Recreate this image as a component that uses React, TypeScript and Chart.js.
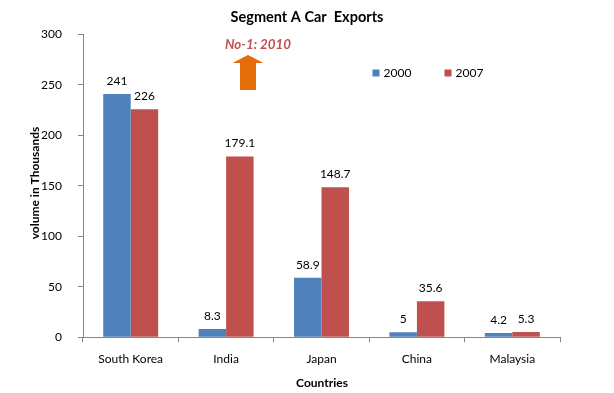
import React, { useEffect, useRef } from "react";
import { Chart, registerables } from "chart.js";

Chart.register(...registerables);

const categories = ["South Korea", "India", "Japan", "China", "Malaysia"];
const series2000 = [241, 8.3, 58.9, 5, 4.2];
const series2007 = [226, 179.1, 148.7, 35.6, 5.3];
const seriesNames = ["2000", "2007"];
const seriesColors = ["#4f81bd", "#c0504d"];
const yTicksMax = 300;
const yTicksStep = 50;
const chartTitle = "Segment A Car  Exports";
const annotationText = "No-1: 2010";
const xTitle = "Countries";
const yTitle = "volume in Thousands";

const FONT = "Lato, 'Open Sans', sans-serif";

const overlayPlugin = {
  id: "overlay",
  afterDatasetsDraw(chart: any) {
    const ctx = chart.ctx;
    ctx.save();
    // data labels
    ctx.font = `12px ${FONT}`;
    ctx.fillStyle = "#000";
    ctx.textAlign = "center";
    ctx.textBaseline = "middle";
    chart.data.datasets.forEach((ds: any, i: number) => {
      const meta = chart.getDatasetMeta(i);
      meta.data.forEach((bar: any, j: number) => {
        ctx.fillText(String(ds.data[j]), bar.x, bar.y - 13);
      });
    });
    // title
    ctx.font = `bold 14.5px ${FONT}`;
    ctx.fillText(chartTitle, 307, 17);
    // annotation
    ctx.font = `italic bold 13.3px ${FONT}`;
    ctx.fillStyle = "#c0504d";
    ctx.textAlign = "left";
    ctx.fillText(annotationText, 225, 45);
    // arrow
    ctx.fillStyle = "#e46c0a";
    ctx.beginPath();
    ctx.moveTo(248, 55);
    ctx.lineTo(263.5, 63);
    ctx.lineTo(256, 63);
    ctx.lineTo(256, 90);
    ctx.lineTo(240, 90);
    ctx.lineTo(240, 63);
    ctx.lineTo(232.5, 63);
    ctx.closePath();
    ctx.fill();
    // legend
    const lx = [372.5, 444.5];
    ctx.font = `12px ${FONT}`;
    ctx.textBaseline = "middle";
    seriesNames.forEach((n, i) => {
      ctx.fillStyle = seriesColors[i];
      ctx.fillRect(lx[i], 69.5, 7, 7);
      ctx.fillStyle = "#000";
      ctx.fillText(n, lx[i] + 11, 73);
    });
    // axis titles
    ctx.font = `bold 12px ${FONT}`;
    ctx.textAlign = "center";
    ctx.fillText(xTitle, 322, 383.5);
    ctx.translate(35, 183);
    ctx.rotate(-Math.PI / 2);
    ctx.fillText(yTitle, 0, 0);
    ctx.restore();
  },
};

export default function App() {
  const ref = useRef<HTMLCanvasElement>(null);
  useEffect(() => {
    document.body.style.margin = "0";
    const chart = new Chart(ref.current!, {
      type: "bar",
      data: {
        labels: categories,
        datasets: [
          { label: seriesNames[0], data: series2000, backgroundColor: seriesColors[0], categoryPercentage: 0.576, barPercentage: 1 },
          { label: seriesNames[1], data: series2007, backgroundColor: seriesColors[1], categoryPercentage: 0.576, barPercentage: 1 },
        ],
      },
      options: {
        animation: false,
        responsive: false,
        layout: { padding: { left: 0, top: 34.5, right: 54, bottom: 0 } },
        plugins: { legend: { display: false }, title: { display: false }, tooltip: { enabled: false } },
        scales: {
          x: {
            afterFit: (axis: any) => { axis.height = 55.7; },
            grid: { display: true, drawOnChartArea: false, tickLength: 5, color: "#868686", offset: true },
            border: { color: "#868686" },
            ticks: { color: "#000", font: { family: FONT, size: 12 }, padding: 10 },
          },
          y: {
            min: 0,
            max: yTicksMax,
            afterFit: (axis: any) => { axis.width = 83; },
            grid: { display: true, drawOnChartArea: false, tickLength: 5, color: "#868686" },
            border: { color: "#868686" },
            ticks: { stepSize: yTicksStep, color: "#000", font: { family: FONT, size: 12 }, padding: 16 },
          },
        },
      },
      plugins: [overlayPlugin],
    });
    return () => chart.destroy();
  }, []);
  return <canvas ref={ref} width={614} height={393} style={{ display: "block" }} />;
}
